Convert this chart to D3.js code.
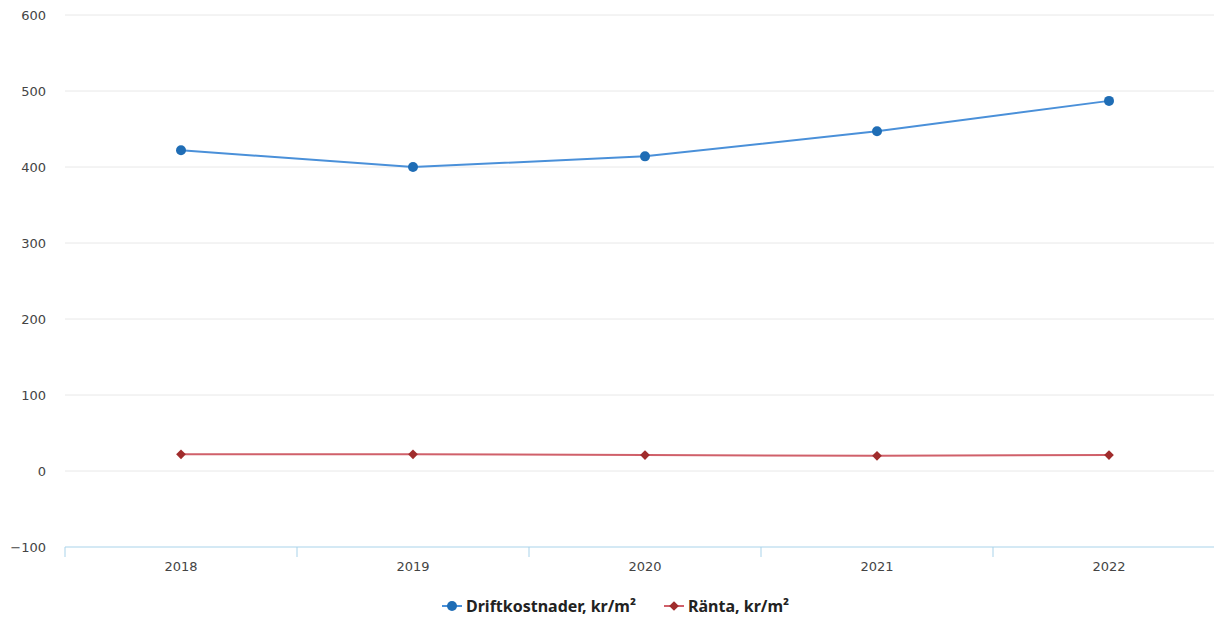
<!DOCTYPE html>
<html>
<head>
<meta charset="utf-8">
<script src="https://cdn.jsdelivr.net/npm/d3@7"></script>
<style>
  html, body { margin: 0; padding: 0; background: #fff; }
  svg { display: block; }
</style>
</head>
<body>
<svg id="chart" width="1214" height="619"></svg>
<script>
// Years on the x axis
const years = ["2018", "2019", "2020", "2021", "2022"];
// Operating costs per square metre
const driftkostnader = [422, 400, 414, 447, 487];
// Interest per square metre
const ranta = [22, 22, 21, 20, 21];
// Y axis tick values
const yTicks = [-100, 0, 100, 200, 300, 400, 500, 600];

const svg = d3.select("#chart");
const W = 1214, H = 619;
const plotLeft = 65, plotRight = 1225, plotTop = 15, plotBottom = 547;

const x = d3.scaleBand().domain(years).range([plotLeft, plotRight]).padding(0);
const y = d3.scaleLinear().domain([-100, 600]).range([plotBottom, plotTop]);

// Horizontal gridlines
svg.append("g")
  .selectAll("line")
  .data(yTicks.filter(v => v > -100))
  .join("line")
  .attr("x1", plotLeft).attr("x2", W)
  .attr("y1", d => y(d)).attr("y2", d => y(d))
  .attr("stroke", "#e8e8e8")
  .attr("stroke-width", 1);

// Y axis labels
svg.append("g")
  .selectAll("text")
  .data(yTicks)
  .join("text")
  .attr("x", 46)
  .attr("y", d => y(d))
  .attr("dy", "0.35em")
  .attr("text-anchor", "end")
  .attr("font-family", "DejaVu Sans, Verdana, sans-serif")
  .attr("font-size", 13)
  .attr("fill", "#444")
  .text(d => d === -100 ? "\u2212100" : d);

// X axis with boundary ticks
const xAxisG = svg.append("g").attr("transform", `translate(0,${plotBottom})`);
xAxisG.append("line")
  .attr("x1", plotLeft).attr("x2", W)
  .attr("y1", 0).attr("y2", 0)
  .attr("stroke", "#a9d3ea").attr("stroke-width", 1);
xAxisG.selectAll("line.tick")
  .data(years)
  .join("line")
  .attr("class", "tick")
  .attr("x1", d => x(d)).attr("x2", d => x(d))
  .attr("y1", 0).attr("y2", 10)
  .attr("stroke", "#a9d3ea").attr("stroke-width", 1);
xAxisG.selectAll("text")
  .data(years)
  .join("text")
  .attr("x", d => x(d) + x.bandwidth() / 2)
  .attr("y", 24)
  .attr("text-anchor", "middle")
  .attr("font-family", "DejaVu Sans, Verdana, sans-serif")
  .attr("font-size", 13)
  .attr("fill", "#444")
  .text(d => d);

const cx = d => x(d) + x.bandwidth() / 2;
const line = d3.line().x(d => cx(d[0])).y(d => y(d[1]));

const blue = "#1f6db5", blueLine = "#4a90d9";
const red = "#a02c2c", redLine = "#d0606a";

// Driftkostnader series
const driftData = years.map((yr, i) => [yr, driftkostnader[i]]);
svg.append("path")
  .datum(driftData)
  .attr("d", line)
  .attr("fill", "none")
  .attr("stroke", blueLine)
  .attr("stroke-width", 2);
svg.append("g")
  .selectAll("circle")
  .data(driftData)
  .join("circle")
  .attr("cx", d => cx(d[0]))
  .attr("cy", d => y(d[1]))
  .attr("r", 5)
  .attr("fill", blue);

// Ränta series
const rantaData = years.map((yr, i) => [yr, ranta[i]]);
svg.append("path")
  .datum(rantaData)
  .attr("d", line)
  .attr("fill", "none")
  .attr("stroke", redLine)
  .attr("stroke-width", 2);
const diamond = d3.symbol().type(d3.symbolDiamond2).size(60);
svg.append("g")
  .selectAll("path")
  .data(rantaData)
  .join("path")
  .attr("transform", d => `translate(${cx(d[0])},${y(d[1])})`)
  .attr("d", diamond)
  .attr("fill", red);

// Legend
const legend = svg.append("g").attr("transform", "translate(0,606)");
const items = [
  { label: "Driftkostnader, kr/m\u00b2", x: 442, stroke: blueLine, fill: blue, shape: "circle" },
  { label: "R\u00e4nta, kr/m\u00b2", x: 664, stroke: redLine, fill: red, shape: "diamond" }
];
items.forEach(it => {
  const g = legend.append("g").attr("transform", `translate(${it.x},0)`);
  g.append("line").attr("x1", 0).attr("x2", 20).attr("y1", 0).attr("y2", 0)
    .attr("stroke", it.stroke).attr("stroke-width", 2);
  if (it.shape === "circle") {
    g.append("circle").attr("cx", 10).attr("cy", 0).attr("r", 5).attr("fill", it.fill);
  } else {
    g.append("path").attr("transform", "translate(10,0)").attr("d", diamond).attr("fill", it.fill);
  }
  g.append("text")
    .attr("x", 24).attr("y", 0).attr("dy", "0.35em")
    .attr("font-family", "Noto Sans, sans-serif")
    .attr("font-weight", "bold")
    .attr("font-size", 16)
    .attr("fill", "#222")
    .text(it.label);
});
</script>
</body>
</html>
